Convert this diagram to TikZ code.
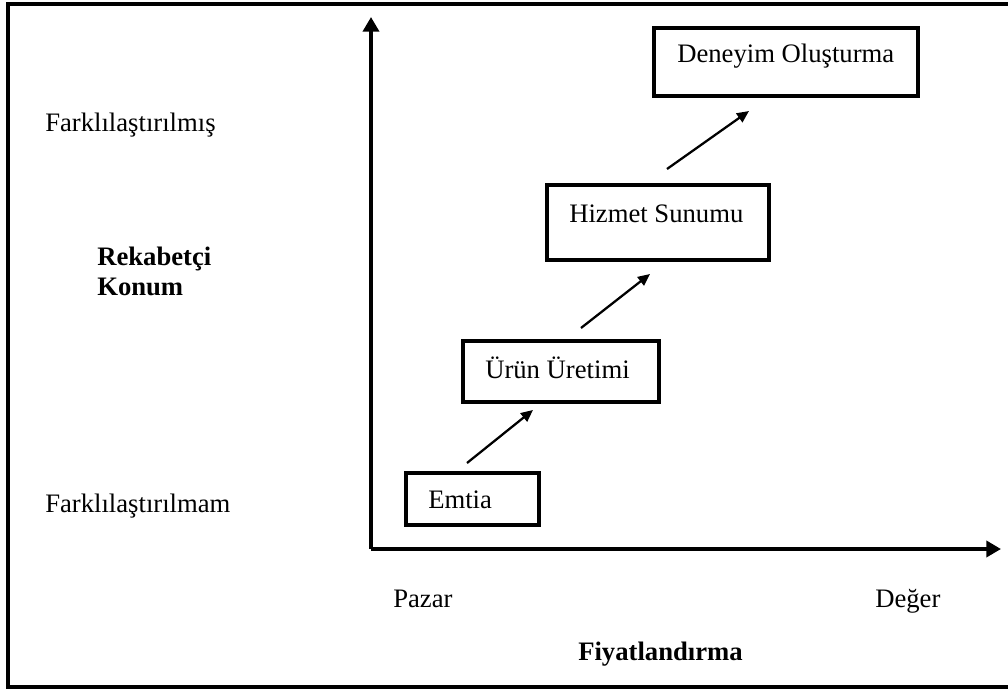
\documentclass[tikz,border=0pt]{standalone}
\usepackage{fontspec}
\setmainfont{Liberation Serif}
\usetikzlibrary{arrows.meta}
\begin{document}
\begin{tikzpicture}[x=0.75pt,y=-0.75pt,
  lbl/.style={anchor=base west,inner sep=0pt,font=\fontsize{20}{24}\selectfont},
  blbl/.style={lbl,font=\fontsize{20}{24}\selectfont\bfseries},
  box/.style={draw,line width=3pt,inner sep=0pt},
  axis/.style={line width=3.3pt,-{Triangle[length=11pt,width=12pt]}},
  stepar/.style={line width=1.7pt,-{Triangle[length=9pt,width=8pt]}}]
\useasboundingbox (0,0) rectangle (1008,689);
% frame
\draw[line width=2.4pt] (1010,4) -- (8,4) -- (8,687) -- (1010,687);
% axes
\coordinate (O) at (371,549);
\coordinate (ytop) at (371,17);
\coordinate (xend) at (1001,549);
\draw[axis] (O) -- (ytop);
\draw[axis] (O) -- (xend);
% boxes
\node[box,minimum width=99.75pt,minimum height=39pt] (emtia) at (472.5,499) {};
\node[box,minimum width=147pt,minimum height=45.75pt] (urun) at (561,371.5) {};
\node[box,minimum width=166.5pt,minimum height=56.25pt] (hizmet) at (658,222.5) {};
\node[box,minimum width=198pt,minimum height=51pt] (deneyim) at (786,62) {};
% box texts
\node[lbl] (temtia) at (428,508) {Emtia};
\node[lbl] (turun) at (485,378) {Ürün Üretimi};
\node[lbl] (thizmet) at (569,222) {Hizmet Sunumu};
\node[lbl] (tdeneyim) at (677,62) {Deneyim Oluşturma};
% step arrows
\coordinate (a1s) at (467,463); \coordinate (a1e) at (533,410);
\coordinate (a2s) at (581,328); \coordinate (a2e) at (650,274);
\coordinate (a3s) at (667,169); \coordinate (a3e) at (749,111);
\draw[stepar] (a1s) -- (a1e);
\draw[stepar] (a2s) -- (a2e);
\draw[stepar] (a3s) -- (a3e);
% axis labels
\node[lbl] (fmis) at (45,131) {Farklılaştırılmış};
\node[blbl] (rek) at (97,265) {Rekabetçi};
\node[blbl] (kon) at (97,295) {Konum};
\node[lbl] (fmam) at (45,512) {Farklılaştırılmam};
\node[lbl] (pazar) at (393,607) {Pazar};
\node[lbl] (deger) at (875,607) {Değer};
\node[blbl] (fiyat) at (578,660) {Fiyatlandırma};
\end{tikzpicture}
\end{document}
